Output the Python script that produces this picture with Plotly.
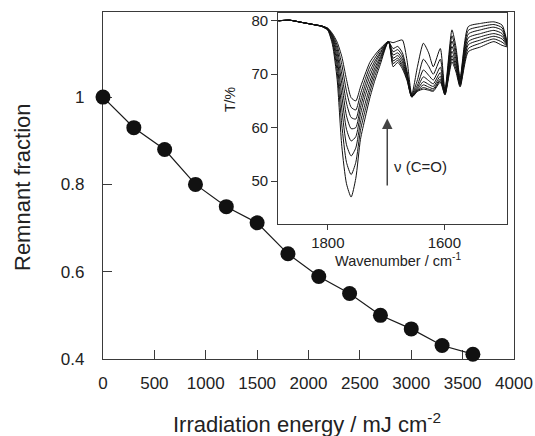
import plotly.graph_objects as go

# Main plot: remnant fraction vs irradiation energy
energy = [0, 300, 600, 900, 1200, 1500, 1800, 2100, 2400, 2700, 3000, 3300, 3600]
remnant = [1.0, 0.930, 0.880, 0.800, 0.749, 0.712, 0.641, 0.589, 0.550, 0.500, 0.469, 0.431, 0.411]

main_xticks = [0, 500, 1000, 1500, 2000, 2500, 3000, 3500, 4000]
main_yticks = [0.4, 0.6, 0.8, 1.0]
main_ylabels = ["0.4", "0.6", "0.8", "1"]

# Inset: IR spectra recorded during irradiation (wavenumber / cm-1, T / %)
wavenumber = [1885, 1865, 1845, 1825, 1810, 1800, 1792, 1784, 1776, 1768, 1760, 1752,
              1744, 1736, 1728, 1720, 1710, 1696, 1688, 1680, 1672, 1664, 1656, 1646,
              1636, 1627, 1619, 1607, 1599, 1587, 1580, 1573, 1559, 1538, 1515, 1501, 1492]

spec_0 = [80.0, 80.1, 79.7, 79.3, 78.9, 78.2, 75.5, 69.0, 56.5, 49.5, 47.0, 50.5,
          57.8, 61.8, 65.5, 68.6, 71.8, 76.1, 75.9, 76.2, 76.4, 72.5, 66.2, 71.5,
          75.8, 74.0, 71.4, 74.8, 67.0, 78.3, 75.0, 69.3, 78.9, 79.5, 79.8, 79.2, 75.8]
spec_1 = [80.0, 80.1, 79.7, 79.3, 78.9, 78.3, 76.0, 70.5, 60.5, 53.5, 51.2, 53.5,
          59.5, 63.2, 66.6, 69.5, 72.4, 76.1, 74.8, 75.2, 74.0, 70.5, 66.1, 69.0,
          72.8, 71.5, 70.0, 72.8, 66.8, 77.2, 74.2, 69.0, 78.2, 78.9, 79.3, 78.7, 75.7]
spec_2 = [80.0, 80.1, 79.7, 79.3, 79.0, 78.4, 76.4, 71.8, 63.5, 56.8, 54.7, 56.2,
          61.0, 64.5, 67.6, 70.3, 72.9, 76.1, 74.2, 74.6, 73.4, 70.2, 66.0, 68.0,
          70.8, 69.8, 68.9, 71.3, 66.6, 76.2, 73.4, 68.7, 77.5, 78.3, 78.8, 78.2, 75.6]
spec_3 = [80.0, 80.1, 79.7, 79.3, 79.0, 78.4, 76.8, 72.9, 66.0, 59.7, 57.5, 58.3,
          62.5, 65.9, 68.6, 71.0, 73.3, 76.1, 73.6, 74.0, 72.8, 69.9, 65.9, 67.5,
          69.5, 68.8, 68.2, 70.3, 66.5, 75.2, 72.7, 68.4, 76.8, 77.6, 78.2, 77.6, 75.5]
spec_4 = [80.0, 80.1, 79.7, 79.3, 79.0, 78.5, 77.0, 73.9, 68.2, 62.2, 59.8, 60.0,
          63.8, 67.0, 69.6, 71.7, 73.8, 76.1, 73.0, 73.5, 72.3, 69.6, 65.9, 67.2,
          68.6, 68.1, 67.7, 69.6, 66.4, 74.3, 72.0, 68.2, 76.1, 77.0, 77.6, 77.1, 75.4]
spec_5 = [80.0, 80.1, 79.7, 79.3, 79.0, 78.5, 77.2, 74.7, 70.0, 64.6, 61.9, 61.6,
          65.0, 68.0, 70.5, 72.3, 74.1, 76.1, 72.5, 73.0, 71.8, 69.3, 65.8, 67.0,
          68.0, 67.6, 67.3, 69.1, 66.3, 73.5, 71.4, 68.0, 75.5, 76.4, 77.1, 76.6, 75.3]
spec_6 = [80.0, 80.1, 79.7, 79.3, 79.0, 78.6, 77.4, 75.4, 71.8, 66.8, 63.8, 63.3,
          66.3, 69.0, 71.4, 72.9, 74.5, 76.1, 72.0, 72.6, 71.4, 69.0, 65.8, 66.9,
          67.5, 67.2, 67.0, 68.8, 66.2, 72.9, 70.9, 67.8, 74.8, 75.8, 76.6, 76.0, 75.2]
spec_7 = [80.0, 80.1, 79.7, 79.3, 79.0, 78.6, 77.6, 76.0, 73.3, 69.0, 65.6, 65.0,
          67.6, 70.0, 72.2, 73.5, 74.8, 76.1, 71.4, 72.2, 71.0, 68.8, 65.7, 66.8,
          67.2, 67.0, 66.8, 68.5, 66.1, 72.3, 70.4, 67.6, 74.2, 75.1, 76.1, 75.4, 75.1]
spectra = [spec_0, spec_1, spec_2, spec_3, spec_4, spec_5, spec_6, spec_7]

inset_xticks = [1800, 1600]
inset_yticks = [50, 60, 70, 80]

FONT = "Liberation Sans, Arial, sans-serif"
TXT = "#222222"
AX = "#3a3a3a"

# Plot-area geometry in pixels
W, H = 535, 436
L, R, T, B = 103, 21, 12, 77
PW, PH = W - L - R, H - T - B


def px(x):
    return (x - L) / PW


def py(y):
    return (H - B - y) / PH


fig = go.Figure()

fig.add_trace(go.Scatter(
    x=energy, y=remnant, mode="lines+markers",
    line=dict(color="#1a1a1a", width=1.2),
    marker=dict(color="#111111", size=15, line=dict(width=0)),
    cliponaxis=False, showlegend=False, xaxis="x", yaxis="y",
))

for s in spectra:
    fig.add_trace(go.Scatter(
        x=wavenumber, y=s, mode="lines",
        line=dict(color="#111111", width=1, shape="spline", smoothing=0.6),
        showlegend=False, xaxis="x2", yaxis="y2",
    ))

fig.update_layout(
    template="none",
    width=W, height=H,
    margin=dict(l=L, r=R, t=T, b=B, autoexpand=False),
    paper_bgcolor="white", plot_bgcolor="white",
    font=dict(family=FONT, color=TXT, size=17),
    xaxis=dict(
        range=[0, 4000], tickvals=main_xticks, ticks="inside", ticklen=9,
        tickcolor=AX, showline=True, linecolor=AX, linewidth=1.3, mirror=True,
        showgrid=False, zeroline=False, tickfont=dict(size=17, color=TXT),
        ticklabelstandoff=8, automargin=False, layer="below traces",
    ),
    yaxis=dict(
        range=[0.4, 1.195], tickvals=main_yticks, ticktext=main_ylabels,
        ticks="inside", ticklen=9, tickcolor=AX, showline=True, linecolor=AX,
        linewidth=1.3, mirror=True, showgrid=False, zeroline=False,
        tickfont=dict(size=17, color=TXT), ticklabelstandoff=14,
        automargin=False, layer="below traces",
    ),
    xaxis2=dict(
        domain=[px(278.3), px(507.3)], anchor="y2", range=[1885, 1492],
        tickvals=inset_xticks, ticks="outside", ticklen=5, tickcolor=AX,
        showline=True, linecolor=AX, linewidth=1.2, mirror=True,
        showgrid=False, zeroline=False, tickfont=dict(size=15, color=TXT),
        automargin=False,
    ),
    yaxis2=dict(
        domain=[py(224.3), py(13.3)], anchor="x2", range=[41.9, 81.4],
        tickvals=inset_yticks, ticks="outside", ticklen=6, tickcolor=AX,
        showline=True, linecolor=AX, linewidth=1.2, mirror=True,
        showgrid=False, zeroline=False, tickfont=dict(size=15, color=TXT),
        automargin=False,
    ),
)

# Axis titles
fig.add_annotation(xref="paper", yref="paper", x=px(307), y=py(423),
                   text="Irradiation energy / mJ cm<sup>-2</sup>", showarrow=False,
                   font=dict(size=22, color=TXT), xanchor="center", yanchor="middle")
fig.add_annotation(xref="paper", yref="paper", x=px(22), y=py(187),
                   text="Remnant fraction", textangle=-90, showarrow=False,
                   font=dict(size=22, color=TXT), xanchor="center", yanchor="middle")
fig.add_annotation(xref="paper", yref="paper", x=px(398), y=py(260),
                   text="Wavenumber / cm<sup>-1</sup>", showarrow=False,
                   font=dict(size=14.5, color=TXT), xanchor="center", yanchor="middle")
fig.add_annotation(xref="paper", yref="paper", x=px(230), y=py(100),
                   text="T/%", textangle=-90, showarrow=False,
                   font=dict(size=14, color=TXT), xanchor="center", yanchor="middle")

# Band assignment arrow
fig.add_annotation(xref="x2", yref="y2", x=1698, y=61.7, ax=1698, ay=48.9,
                   axref="x2", ayref="y2", text="", showarrow=True,
                   arrowhead=2, arrowsize=1.4, arrowwidth=1.5, arrowcolor="#444444")
fig.add_annotation(xref="x2", yref="y2", x=1690, y=52.7, text="\u03bd (C=O)",
                   showarrow=False, xanchor="left", yanchor="middle",
                   font=dict(size=15, color=TXT))

fig.write_html("out.html")
